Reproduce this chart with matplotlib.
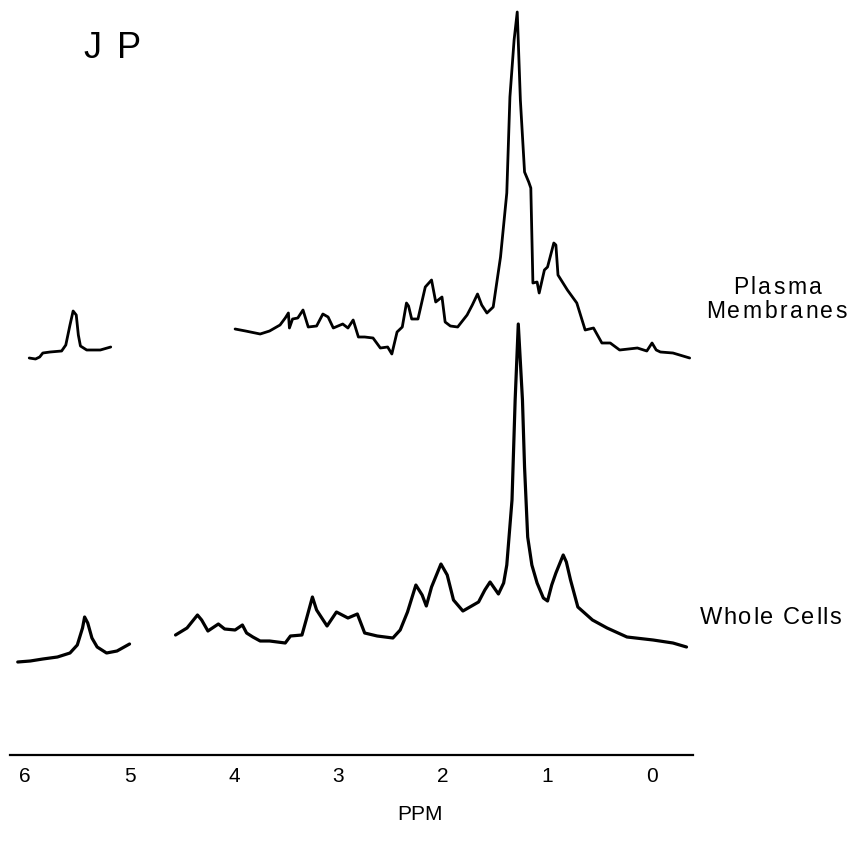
import numpy as np
import matplotlib
matplotlib.use("Agg")
import matplotlib.pyplot as plt
from matplotlib.transforms import IdentityTransform

# ---------------- data (chemical shift in ppm, intensity in arbitrary units) ----------------
pm_seg1_ppm = [5.96, 5.90, 5.86, 5.83, 5.76, 5.65, 5.61, 5.57, 5.54, 5.51, 5.49, 5.47, 5.41, 5.28, 5.18]
pm_seg1_int = [2, 1, 3, 7, 8, 9, 15, 35, 49, 45, 25, 14, 10, 10, 13]

pm_seg2_ppm = [3.99, 3.89, 3.75, 3.66, 3.56, 3.51, 3.48, 3.47, 3.44, 3.39, 3.34, 3.29, 3.21, 3.15,
               3.10, 3.05, 2.96, 2.91, 2.86, 2.81, 2.75, 2.67, 2.60, 2.53, 2.49, 2.44, 2.39, 2.35,
               2.33, 2.30, 2.24, 2.17, 2.11, 2.07, 2.01, 1.98, 1.93, 1.86, 1.77, 1.72, 1.67, 1.63,
               1.58, 1.52, 1.45, 1.39, 1.36, 1.32, 1.29, 1.26, 1.22, 1.18, 1.16, 1.14, 1.10, 1.08,
               1.03, 1.00, 0.94, 0.92, 0.90, 0.81, 0.72, 0.64, 0.56, 0.48, 0.40, 0.31, 0.14, 0.05,
               0.00, -0.04, -0.08, -0.20, -0.36]
pm_seg2_int = [31, 29, 26, 29, 35, 42, 47, 32, 41, 42, 50, 33, 34, 46,
               43, 32, 36, 32, 40, 23, 23, 22, 12, 13, 6, 28, 33, 57,
               54, 41, 41, 73, 80, 58, 63, 38, 34, 33, 45, 55, 66, 55,
               47, 53, 103, 167, 263, 320, 348, 260, 188, 178, 172, 77, 78, 67,
               90, 93, 117, 115, 85, 70, 57, 30, 32, 17, 17, 10, 12, 9,
               17, 10, 8, 7, 2]

wc_seg1_ppm = [6.07, 5.95, 5.83, 5.69, 5.57, 5.50, 5.45, 5.43, 5.40, 5.36, 5.31, 5.22, 5.12, 5.00]
wc_seg1_int = [-2, -1, 1, 3, 7, 15, 32, 43, 37, 22, 13, 7, 9, 16]

wc_seg2_ppm = [4.56, 4.45, 4.35, 4.31, 4.25, 4.15, 4.09, 3.99, 3.92, 3.88, 3.82, 3.75, 3.66, 3.51,
               3.46, 3.35, 3.31, 3.25, 3.21, 3.11, 3.02, 2.91, 2.82, 2.75, 2.63, 2.48, 2.41, 2.34,
               2.26, 2.20, 2.16, 2.11, 2.02, 1.96, 1.90, 1.81, 1.66, 1.60, 1.55, 1.51, 1.47, 1.42,
               1.39, 1.34, 1.31, 1.28, 1.24, 1.22, 1.19, 1.15, 1.10, 1.04, 1.00, 0.96, 0.92, 0.85,
               0.82, 0.78, 0.71, 0.57, 0.43, 0.24, -0.01, -0.20, -0.33]
wc_seg2_int = [25, 32, 45, 40, 29, 36, 31, 30, 35, 27, 23, 19, 19, 17,
               24, 25, 40, 63, 50, 34, 48, 42, 46, 27, 24, 22, 30, 48,
               75, 65, 54, 73, 96, 85, 60, 49, 58, 70, 78, 72, 66, 77,
               95, 160, 260, 336, 260, 193, 123, 95, 77, 62, 59, 75, 87, 105,
               98, 80, 53, 40, 32, 23, 20, 17, 13]

tick_values = [6, 5, 4, 3, 2, 1, 0]
tick_labels = ["6", "5", "4", "3", "2", "1", "0"]

# ---------------- figure ----------------
W, H = 857, 841
fig = plt.figure(figsize=(W / 100, H / 100), dpi=100)
fig.patch.set_facecolor("white")
FONT = "Liberation Sans"

ax = fig.add_axes([10 / W, (H - 755) / H, 683 / W, 755 / H])
ax.set_xlim(6.144, -0.392)
ax.set_ylim(0, 755)
ax.patch.set_alpha(0)

pm_offset = 395
wc_offset = 95
line_kw = dict(color="black", solid_joinstyle="round", solid_capstyle="round")
ax.plot(pm_seg1_ppm, np.array(pm_seg1_int) + pm_offset, lw=2.0, **line_kw)
ax.plot(pm_seg2_ppm, np.array(pm_seg2_int) + pm_offset, lw=2.0, **line_kw)
ax.plot(wc_seg1_ppm, np.array(wc_seg1_int) + wc_offset, lw=2.3, **line_kw)
ax.plot(wc_seg2_ppm, np.array(wc_seg2_int) + wc_offset, lw=2.3, **line_kw)

for s in ["top", "left", "right"]:
    ax.spines[s].set_visible(False)
ax.spines["bottom"].set_linewidth(1.6)
ax.set_yticks([])
ax.set_xticks(tick_values)
ax.set_xticklabels(tick_labels, fontfamily=FONT, fontsize=15)
ax.tick_params(axis="x", length=0, pad=9)

renderer = fig.canvas.get_renderer()


def spaced_text(x_px, y_base_px, s, size, gap):
    x = x_px
    for ch in s:
        if ch == " ":
            x += size * 0.35 * 100 / 72
            continue
        t = fig.text(x, H - y_base_px, ch, transform=IdentityTransform(),
                     fontsize=size, fontfamily=FONT, ha="left", va="baseline")
        w = t.get_window_extent(renderer).width
        x += w + gap


spaced_text(83, 58, "J", 26, 0)
spaced_text(117, 58, "P", 26, 0)
spaced_text(733, 294, "Plasma", 16.5, 2.5)
spaced_text(706, 318, "Membranes", 16.5, 2.5)
spaced_text(700, 624, "Whole Cells", 17, 1.5)

fig.text(420 / W, 1 - 815 / H, "PPM", fontfamily=FONT, fontsize=15,
         ha="center", va="center")

fig.savefig("out.png", dpi=100, facecolor="white")
